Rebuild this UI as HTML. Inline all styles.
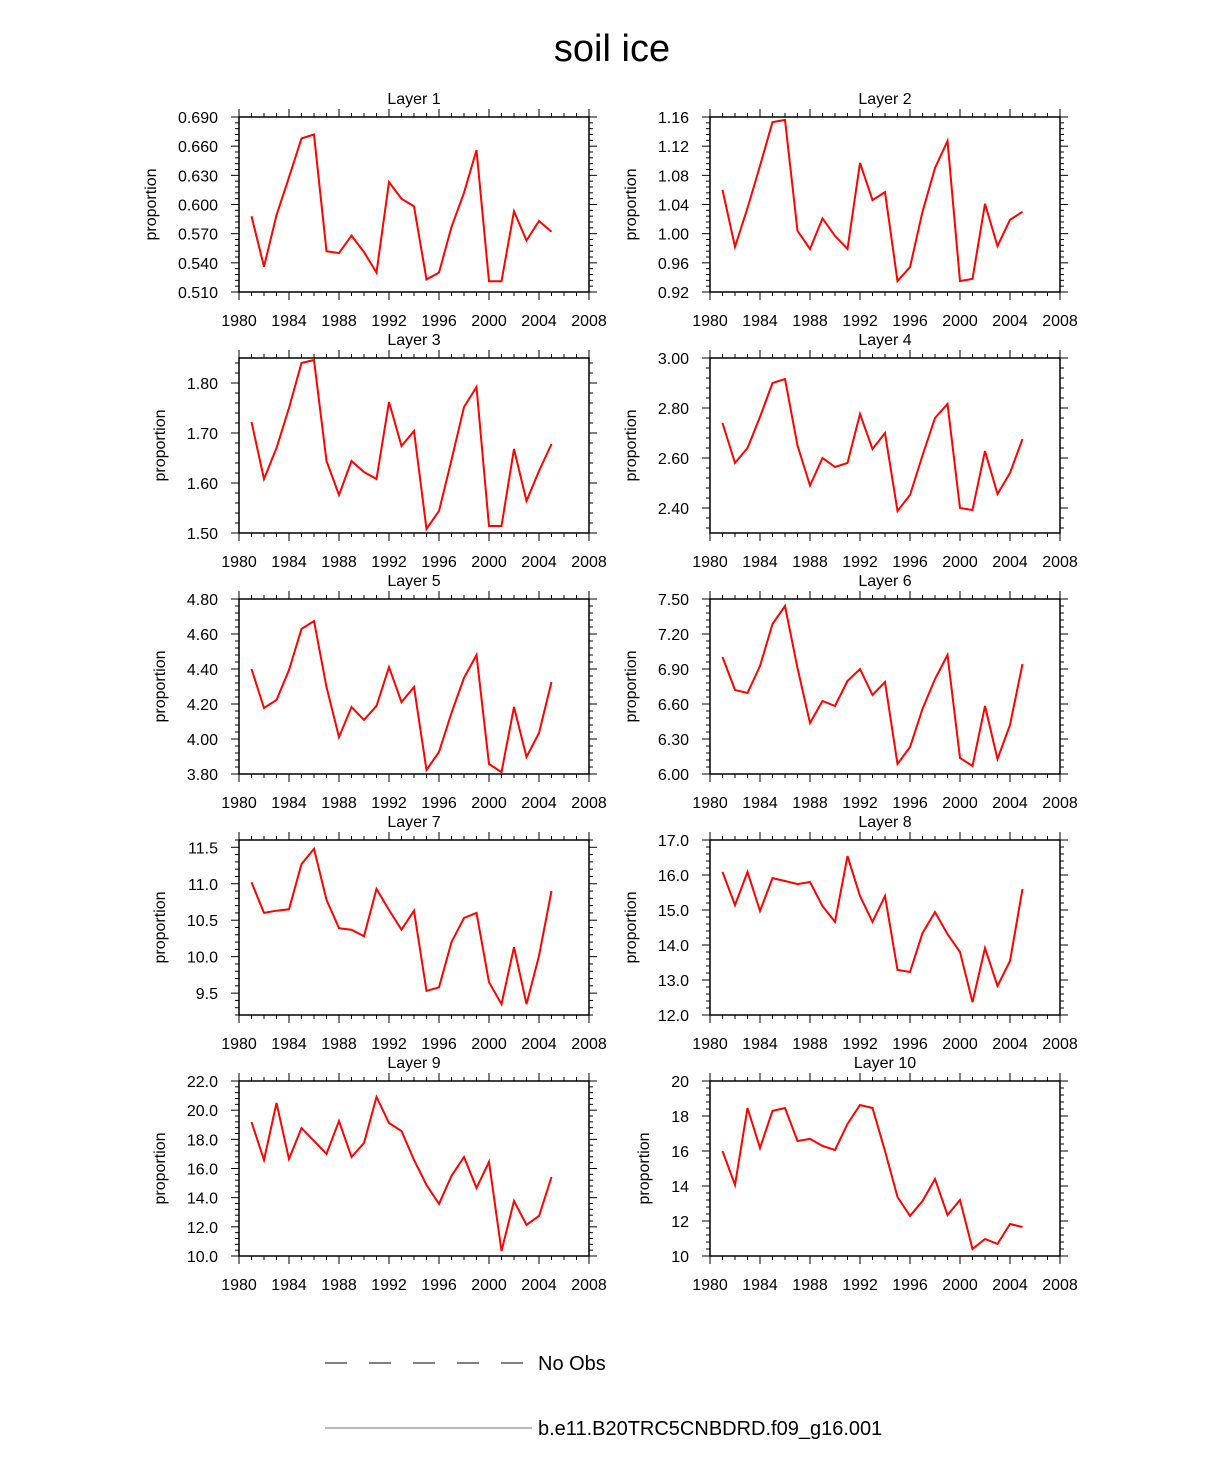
<!DOCTYPE html>
<html><head><meta charset="utf-8"><style>
body{margin:0;background:#fff;width:1224px;height:1470px;overflow:hidden}
svg{font-family:"Liberation Sans",Helvetica,sans-serif}
</style></head><body>
<svg id="c" width="1224" height="1470">
<text x="612" y="61" font-size="38" text-anchor="middle">soil ice</text>
<g>
<line x1="325" y1="1363" x2="525" y2="1363" stroke="#000" stroke-width="1" stroke-dasharray="22,22"/>
<text x="538" y="1370" font-size="20">No Obs</text>
<line x1="325" y1="1428" x2="532" y2="1428" stroke="#777" stroke-width="1"/>
<text x="538" y="1435" font-size="20">b.e11.B20TRC5CNBDRD.f09_g16.001</text>
</g>
</svg>
<script>
const years=[1981,1982,1983,1984,1985,1986,1987,1988,1989,1990,1991,1992,1993,1994,1995,1996,1997,1998,1999,2000,2001,2002,2003,2004,2005];
const xTicks=[1980,1984,1988,1992,1996,2000,2004,2008];
const layer1=[0.588,0.536,0.589,0.628,0.668,0.672,0.552,0.550,0.568,0.551,0.530,0.623,0.606,0.598,0.523,0.530,0.577,0.612,0.656,0.521,0.521,0.593,0.563,0.583,0.572];
const layer2=[1.060,0.982,1.035,1.093,1.153,1.156,1.004,0.979,1.021,0.997,0.979,1.097,1.046,1.057,0.935,0.954,1.030,1.090,1.127,0.935,0.938,1.041,0.983,1.019,1.030];
const layer3=[1.722,1.608,1.670,1.750,1.840,1.846,1.644,1.576,1.644,1.622,1.608,1.762,1.674,1.704,1.508,1.544,1.646,1.752,1.792,1.514,1.514,1.668,1.564,1.624,1.678];
const layer4=[2.740,2.580,2.640,2.764,2.900,2.916,2.650,2.490,2.600,2.564,2.580,2.776,2.636,2.700,2.388,2.452,2.610,2.760,2.816,2.400,2.392,2.628,2.456,2.540,2.676];
const layer5=[4.400,4.177,4.223,4.394,4.629,4.674,4.297,4.011,4.183,4.109,4.189,4.411,4.211,4.297,3.823,3.926,4.149,4.349,4.480,3.857,3.811,4.183,3.897,4.034,4.326];
const layer6=[7.003,6.720,6.694,6.926,7.286,7.440,6.909,6.437,6.626,6.583,6.797,6.900,6.677,6.789,6.086,6.231,6.557,6.814,7.020,6.137,6.069,6.583,6.129,6.420,6.943];
const layer7=[11.02,10.60,10.63,10.65,11.27,11.48,10.78,10.39,10.37,10.28,10.93,10.64,10.37,10.63,9.53,9.58,10.20,10.53,10.60,9.65,9.35,10.13,9.35,10.01,10.90];
const layer8=[16.09,15.14,16.09,14.97,15.91,15.83,15.74,15.80,15.11,14.66,16.54,15.40,14.66,15.40,13.29,13.23,14.34,14.94,14.31,13.80,12.37,13.91,12.83,13.54,15.60];
const layer9=[19.19,16.58,20.49,16.65,18.78,17.89,17.00,19.26,16.79,17.75,20.90,19.12,18.57,16.58,14.87,13.57,15.49,16.79,14.66,16.45,10.34,13.77,12.13,12.74,15.42];
const layer10=[16.00,14.06,18.46,16.17,18.29,18.46,16.57,16.69,16.29,16.06,17.54,18.63,18.46,16.00,13.37,12.29,13.14,14.40,12.34,13.20,10.40,10.97,10.69,11.83,11.66];
const yTicks1=[0.510,0.540,0.570,0.600,0.630,0.660,0.690];
const yTicks2=[0.92,0.96,1.00,1.04,1.08,1.12,1.16];
const yTicks3=[1.50,1.60,1.70,1.80];
const yTicks4=[2.40,2.60,2.80,3.00];
const yTicks5=[3.80,4.00,4.20,4.40,4.60,4.80];
const yTicks6=[6.00,6.30,6.60,6.90,7.20,7.50];
const yTicks7=[9.5,10.0,10.5,11.0,11.5];
const yTicks8=[12.0,13.0,14.0,15.0,16.0,17.0];
const yTicks9=[10.0,12.0,14.0,16.0,18.0,20.0,22.0];
const yTicks10=[10,12,14,16,18,20];
const panels=[
 {t:"Layer 1",d:layer1,yt:yTicks1,ymin:0.51,ymax:0.69,dec:3},
 {t:"Layer 2",d:layer2,yt:yTicks2,ymin:0.92,ymax:1.16,dec:2},
 {t:"Layer 3",d:layer3,yt:yTicks3,ymin:1.50,ymax:1.85,dec:2},
 {t:"Layer 4",d:layer4,yt:yTicks4,ymin:2.30,ymax:3.00,dec:2},
 {t:"Layer 5",d:layer5,yt:yTicks5,ymin:3.80,ymax:4.80,dec:2},
 {t:"Layer 6",d:layer6,yt:yTicks6,ymin:6.00,ymax:7.50,dec:2},
 {t:"Layer 7",d:layer7,yt:yTicks7,ymin:9.2,ymax:11.6,dec:1},
 {t:"Layer 8",d:layer8,yt:yTicks8,ymin:12,ymax:17,dec:1},
 {t:"Layer 9",d:layer9,yt:yTicks9,ymin:10,ymax:22,dec:1},
 {t:"Layer 10",d:layer10,yt:yTicks10,ymin:10,ymax:20,dec:0}
];
const svg=document.getElementById('c');
const NS="http://www.w3.org/2000/svg";
function mk(tag,attrs,parent){const e=document.createElementNS(NS,tag);for(const k in attrs)e.setAttribute(k,attrs[k]);parent.appendChild(e);return e;}
panels.forEach((p,i)=>{
 const col=i%2,row=Math.floor(i/2);
 const L=col?710:239,R=L+350,T=117+row*241,B=T+175;
 const g=mk('g',{},svg);
 
 
 const xs=v=>L+(v-1980)/28*350;
 const ys=v=>B-(v-p.ymin)/(p.ymax-p.ymin)*175;
 const title=mk('text',{x:(L+R)/2,y:T-13,'font-size':16,'text-anchor':'middle'},g);
 title.textContent=p.t;
 
 
 for(let y=1980;y<=2008;y++){
  const x=xs(y),maj=(y%4===0),len=maj?8:4;
  mk('line',{x1:x,y1:B,x2:x,y2:B+len,stroke:'#000'},g);
  mk('line',{x1:x,y1:T,x2:x,y2:T-len,stroke:'#000'},g);
 }
 xTicks.forEach(v=>{
  const t=mk('text',{x:xs(v),y:B+34,'font-size':16,'text-anchor':'middle'},g);
  t.textContent=v;
  
  
 });
 const step=p.yt[1]-p.yt[0],minor=step/5;
 for(let v=p.yt[0]-5*minor;v<=p.ymax+1e-9;v+=minor){
  if(v<p.ymin-1e-9)continue;
  const y=ys(v);
  const k=Math.round((v-p.yt[0])/minor);
  const maj=k%5===0;const len=maj?8:4;
  mk('line',{x1:L,y1:y,x2:L-len,y2:y,stroke:'#000'},g);
  mk('line',{x1:R,y1:y,x2:R+len,y2:y,stroke:'#000'},g);
 }
 let maxW=0;
 p.yt.forEach(v=>{
  const t=mk('text',{x:L-21,y:ys(v)+6,'font-size':16,'text-anchor':'end'},g);
  t.textContent=v.toFixed(p.dec);
  
  
  maxW=Math.max(maxW,t.getComputedTextLength());
 });
 const tx=L-21-maxW-22;
 const yl=mk('text',{x:0,y:0,'font-size':16,'text-anchor':'middle',transform:`translate(${tx},${(T+B)/2}) rotate(-90)`},g);
 yl.textContent='proportion';
 
 
 const fr=mk('rect',{x:L,y:T,width:350,height:175,fill:'none',stroke:'#000','stroke-width':1.5},g);
 
 
 const pts=p.d.map((v,j)=>xs(years[j]).toFixed(1)+','+ys(v).toFixed(1)).join(' ');
 const pl=mk('polyline',{points:pts,fill:'none',stroke:'#f00','stroke-width':2},g);
 
 
});
</script>
</body></html>
